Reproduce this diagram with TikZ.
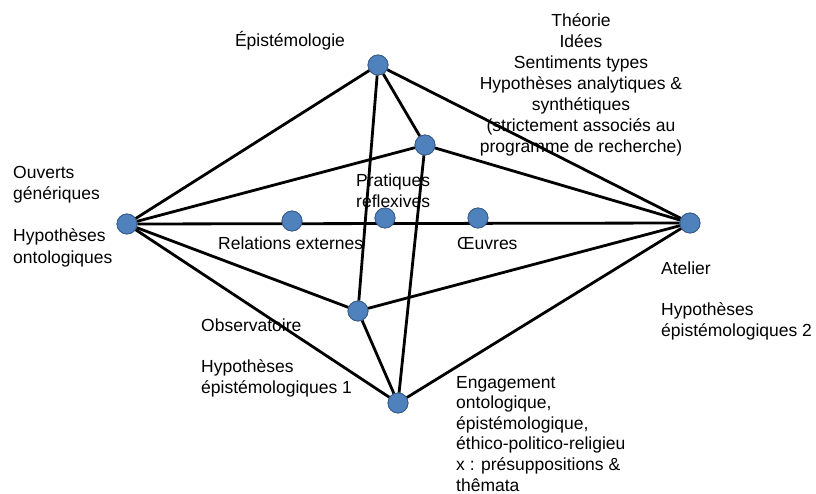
\documentclass[tikz,border=0pt]{standalone}
\usepackage{fontspec}
\setmainfont{Liberation Sans}
\usetikzlibrary{positioning}
\definecolor{dotblue}{HTML}{4F81BD}
\definecolor{dotedge}{HTML}{385D8A}

\begin{document}
\begin{tikzpicture}[
    x=1pt, y=-1pt,
    dot/.style={circle, draw=dotedge, line width=0.8pt, fill=dotblue, minimum size=20pt, inner sep=0pt},
    lbl/.style={inner sep=0pt, font=\fontsize{17.5}{21}\selectfont, align=left, anchor=base west},
    link/.style={line width=2.8pt, black}
]
    \useasboundingbox (0,0) rectangle (816,494);

    % sommets
    \node[dot] (epis) at (378,65) {};
    \node[dot] (theo) at (425,145) {};
    \node[dot] (ouv) at (127,224) {};
    \node[dot] (atel) at (690,223) {};
    \node[dot] (rel) at (292,221) {};
    \node[dot] (prat) at (385,218) {};
    \node[dot] (oeuv) at (478,218) {};
    \node[dot] (obs) at (358,311) {};
    \node[dot] (enga) at (398,403) {};

    % liens
    \draw[link] (ouv) -- (epis);
    \draw[link] (ouv) -- (theo);
    \draw[link] (ouv) -- (atel);
    \draw[link] (ouv) -- (obs);
    \draw[link] (ouv) -- (enga);
    \draw[link] (epis) -- (atel);
    \draw[link] (epis) -- (theo);
    \draw[link] (epis) -- (obs);
    \draw[link] (theo) -- (atel);
    \draw[link] (theo) -- (enga);
    \draw[link] (obs) -- (atel);
    \draw[link] (obs) -- (enga);
    \draw[link] (enga) -- (atel);
    \foreach \n in {epis,theo,ouv,atel,rel,prat,oeuv,obs,enga}
        \node[dot] at (\n) {};

    % textes (base = ligne du bas)
    \node[lbl, anchor=base] (tepis) at (290,47) {Épistémologie};
    \node[lbl, anchor=base, align=center] (ttheo) at (581,153) {Théorie\\Idées\\Sentiments types\\Hypothèses analytiques \&\\synthétiques\\(strictement associés au\\programme de recherche)};
    \node[lbl] (touv) at (13,200) {Ouverts\\génériques};
    \node[lbl] (tonto) at (13,263) {Hypothèses\\ontologiques};
    \node[lbl] (tprat) at (356,208) {Pratiques\\reflexives};
    \node[lbl] (trel) at (218,250) {Relations externes};
    \node[lbl] (toeuv) at (457,250) {Œuvres};
    \node[lbl] (tatel) at (661,274) {Atelier};
    \node[lbl] (tepi2) at (661,336) {Hypothèses\\épistémologiques 2};
    \node[lbl] (tobs) at (201,331) {Observatoire};
    \node[lbl] (tepi1) at (201,393) {Hypothèses\\épistémologiques 1};
    \node[lbl, font=\fontsize{17.5}{20.6}\selectfont] (tenga) at (456,491) {Engagement\\ontologique,\\épistémologique,\\éthico-politico-religieu\\x : présuppositions \&\\thêmata};
\end{tikzpicture}
\end{document}
